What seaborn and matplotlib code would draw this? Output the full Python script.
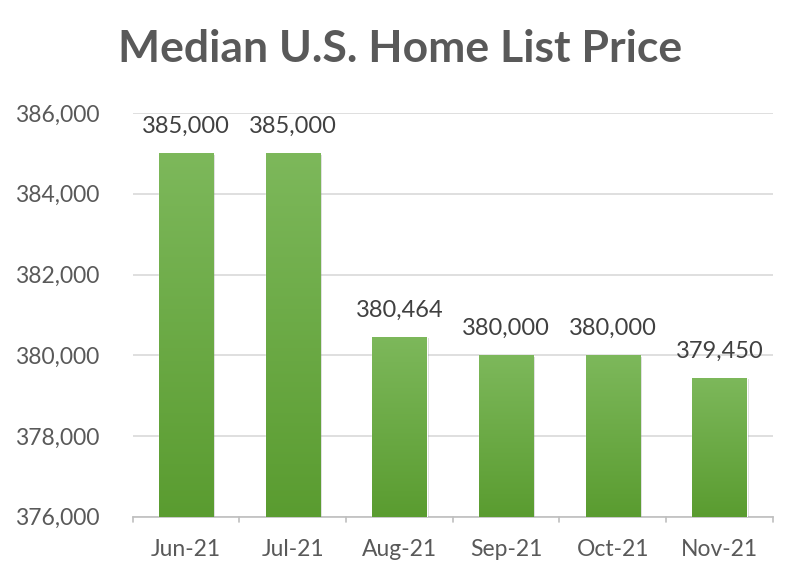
import numpy as np
import pandas as pd
import matplotlib
matplotlib.use("Agg")
import matplotlib.pyplot as plt
import matplotlib.patheffects as pe
from matplotlib.colors import LinearSegmentedColormap
import seaborn as sns

months = ["Jun-21", "Jul-21", "Aug-21", "Sep-21", "Oct-21", "Nov-21"]
prices = [385000, 385000, 380464, 380000, 380000, 379450]
yticks = [376000, 378000, 380000, 382000, 384000, 386000]

sns.set_theme(style="white")
plt.rcParams['font.family'] = ['Lato', 'DejaVu Sans']

df = pd.DataFrame({"month": months, "price": prices})

fig = plt.figure(figsize=(8, 5.8), dpi=100)
ax = fig.add_axes([0.166, 0.109, 0.8, 0.696])

sns.barplot(data=df, x="month", y="price", ax=ax, color="#6aaa43", width=0.51,
            saturation=1, zorder=3)

ax.set_ylim(376000, 386000)
ax.set_yticks(yticks)
ax.set_yticklabels([f"{v:,}" for v in yticks], color="#595959", fontsize=16.5)
ax.set_xticklabels(months, color="#595959", fontsize=16.5)
ax.set_xlabel("")
ax.set_ylabel("")
ax.set_xlim(-0.5, len(months) - 0.5)

ax.yaxis.grid(True, color="#d9d9d9", linewidth=1.2, zorder=0)
ax.set_axisbelow(True)
for s in ["top", "right", "left"]:
    ax.spines[s].set_visible(False)
ax.spines["bottom"].set_color("#bfbfbf")
ax.spines["bottom"].set_linewidth(1.2)
ax.tick_params(axis="y", length=0, pad=24)
ax.tick_params(axis="x", length=0, pad=16)
# category boundary ticks
for b in np.arange(-0.5, len(months) + 0.5, 1.0):
    ax.plot([b, b], [0, -0.012], transform=ax.get_xaxis_transform(),
            color="#bfbfbf", lw=1.2, clip_on=False)

cmap = LinearSegmentedColormap.from_list("g", ["#5a9c30", "#7db85b"])
grad = np.linspace(0, 1, 256).reshape(-1, 1)
for p, v in zip(ax.patches, prices):
    p.set_path_effects([pe.SimplePatchShadow(offset=(1.5, -1), shadow_rgbFace="#000000", alpha=0.15),
                        pe.Normal()])
    x0, y0 = p.get_x(), p.get_y()
    w, h = p.get_width(), p.get_height()
    im = ax.imshow(grad, extent=[x0, x0 + w, 376000, y0 + h], origin="lower",
                   aspect="auto", cmap=cmap, zorder=4)
    im.set_clip_path(p)
    ax.text(x0 + w / 2, v + 400, f"{v:,}", ha="center", va="bottom",
            fontsize=17, color="#404040", zorder=5)

ax.set_ylim(376000, 386000)
ax.set_xlim(-0.5, len(months) - 0.5)

fig.text(0.5, 0.915, "Median U.S. Home List Price", ha="center", va="center",
         fontsize=32, fontweight="bold", color="#595959")

fig.savefig("out.png", dpi=100, facecolor="white")
